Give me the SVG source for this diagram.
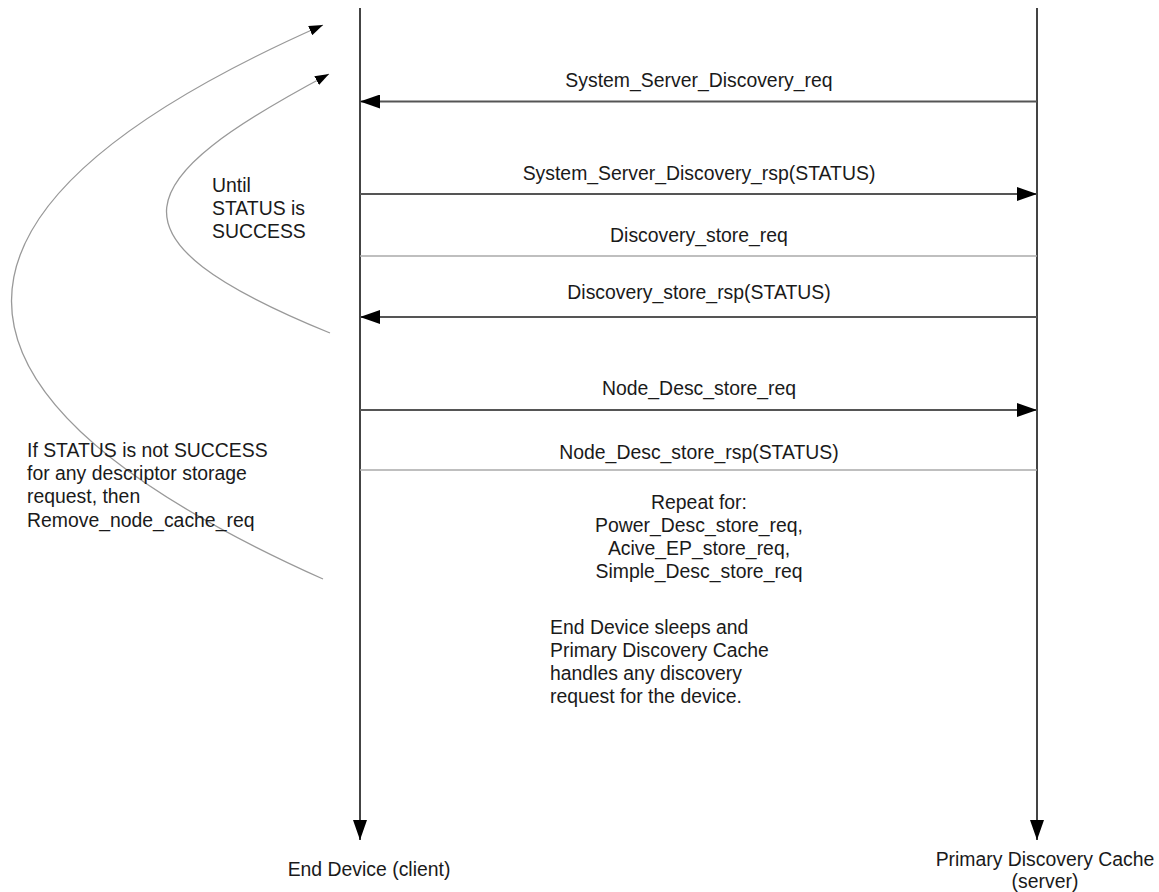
<svg xmlns="http://www.w3.org/2000/svg" width="1159" height="892" viewBox="0 0 1159 892">
<defs>
<style>
text{font-family:"Liberation Sans",Arial,sans-serif;font-size:19.4px;fill:#1a1a1a}
.mid{text-anchor:middle}
.life{stroke:#444;stroke-width:2;fill:none}
.msg{stroke:#555;stroke-width:2.2;fill:none}
.thin{stroke:#aaa;stroke-width:1.5;fill:none}
.loop{stroke:#999;stroke-width:1.3;fill:none}
</style>
<marker id="ah" viewBox="0 0 20 14" refX="20" refY="7" markerWidth="20" markerHeight="14" markerUnits="userSpaceOnUse" orient="auto">
<path d="M0,0 L20,7 L0,14 Z" fill="#000"/>
</marker>
<marker id="ahs" viewBox="0 0 14 10" refX="14" refY="5" markerWidth="14" markerHeight="10" markerUnits="userSpaceOnUse" orient="auto">
<path d="M0,0 L14,5 L0,10 Z" fill="#000"/>
</marker>
</defs>

<g id="lifeline-client">
<line class="life" x1="360" y1="8" x2="360" y2="840" marker-end="url(#ah)"/>
<text class="mid" x="369" y="876">End Device (client)</text>
</g>
<g id="lifeline-server">
<line class="life" x1="1037" y1="8" x2="1037" y2="840" marker-end="url(#ah)"/>
<text class="mid" x="1045" y="866">Primary Discovery Cache</text>
<text class="mid" x="1045" y="888">(server)</text>
</g>

<g id="connectors">
<line class="msg" x1="1037" y1="101.5" x2="360" y2="101.5" marker-end="url(#ah)"/>
<line class="msg" x1="360" y1="194" x2="1037" y2="194" marker-end="url(#ah)"/>
<line class="thin" x1="360" y1="256" x2="1037" y2="256"/>
<line class="msg" x1="1037" y1="317" x2="360" y2="317" marker-end="url(#ah)"/>
<line class="msg" x1="360" y1="410" x2="1037" y2="410" marker-end="url(#ah)"/>
<line class="thin" x1="360" y1="470" x2="1037" y2="470"/>
<path class="loop" d="M323,579 Q-300,300 323,25" marker-end="url(#ahs)"/>
<path class="loop" d="M330,333 C95,237 130,180 329,74" marker-end="url(#ahs)"/>
</g>

<g id="labels">
<text class="mid" x="699" y="87">System_Server_Discovery_req</text>
<text class="mid" x="699" y="180">System_Server_Discovery_rsp(STATUS)</text>
<text class="mid" x="699" y="242">Discovery_store_req</text>
<text class="mid" x="699" y="299">Discovery_store_rsp(STATUS)</text>
<text class="mid" x="699" y="395">Node_Desc_store_req</text>
<text class="mid" x="699" y="459">Node_Desc_store_rsp(STATUS)</text>
</g>

<g id="note-repeat">
<text class="mid" x="699" y="509">Repeat for:</text>
<text class="mid" x="699" y="532">Power_Desc_store_req,</text>
<text class="mid" x="699" y="555">Acive_EP_store_req,</text>
<text class="mid" x="699" y="578">Simple_Desc_store_req</text>
</g>

<g id="note-sleep">
<text x="550" y="634">End Device sleeps and</text>
<text x="550" y="657">Primary Discovery Cache</text>
<text x="550" y="680">handles any discovery</text>
<text x="550" y="703">request for the device.</text>
</g>

<g id="note-until">
<text x="212" y="192">Until</text>
<text x="212" y="215">STATUS is</text>
<text x="212" y="238">SUCCESS</text>
</g>

<g id="note-fail">
<text x="27" y="457">If STATUS is not SUCCESS</text>
<text x="27" y="480">for any descriptor storage</text>
<text x="27" y="503">request, then</text>
<text x="27" y="527">Remove_node_cache_req</text>
</g>
</svg>
